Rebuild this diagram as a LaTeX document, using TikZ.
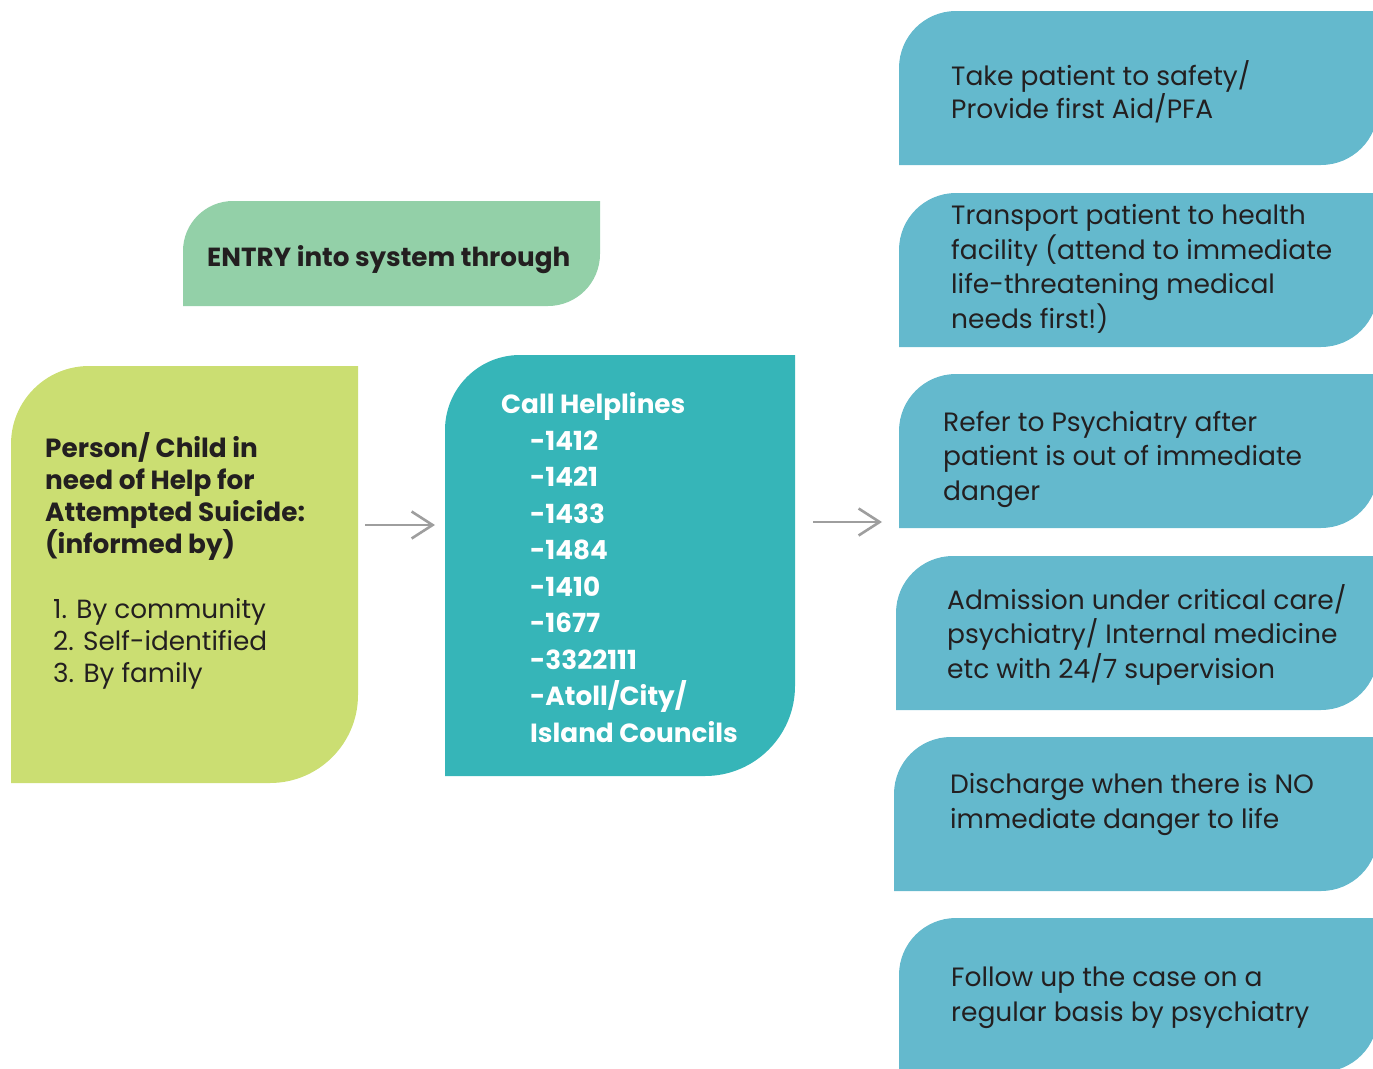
\documentclass[tikz,border=0pt]{standalone}
\usepackage{fontspec}
\setmainfont{Poppins}
\usetikzlibrary{arrows.meta}

\definecolor{cEntry}{HTML}{93D0A8}
\definecolor{cLime}{HTML}{CBDE72}
\definecolor{cTeal}{HTML}{36B5B8}
\definecolor{cSky}{HTML}{64B9CD}
\definecolor{cInk}{HTML}{231F20}
\definecolor{cArrow}{HTML}{9E9E9E}

\tikzset{
  % box with rounded top-left (#2) and bottom-right (#3) corners
  leaf/.style n args={3}{rectangle, inner sep=0pt, outer sep=0pt, anchor=north west,
    path picture={\fill[#1] (path picture bounding box.south west)
      -- ([yshift=-#2]path picture bounding box.north west)
      arc[start angle=180, end angle=90, radius=#2]
      -- (path picture bounding box.north east)
      -- ([yshift=#3]path picture bounding box.south east)
      arc[start angle=0, end angle=-90, radius=#3]
      -- cycle;}},
  stepbox/.style={leaf={cSky}{57pt}{57pt}, minimum width=#1, minimum height=154pt},
  % texts are placed by the baseline of their last line
  txt/.style={anchor=base west, align=left, inner sep=0pt, text=cInk,
    font=\fontsize{26.5}{34.5}\selectfont},
  boldtxt/.style={txt, font=\fontsize{26.3}{31.7}\selectfont\bfseries},
  listtxt/.style={txt, font=\fontsize{26.3}{32}\selectfont},
  helptxt/.style={txt, text=white, font=\fontsize{26.3}{36.5}\selectfont\bfseries},
  conn/.style={draw=cArrow, line width=2.6pt,
    -{Straight Barb[length=21pt, width=27pt]}},
}

\begin{document}
\begin{tikzpicture}[x=1pt, y=1pt]
\useasboundingbox (0,0) rectangle (1373,-1068);

% entry banner
\node[leaf={cEntry}{50pt}{52pt}, minimum width=417pt, minimum height=105pt]
  (entry) at (183,-201) {};
\node[txt, font=\fontsize{26.2}{30}\selectfont\bfseries] (entrytext) at (207,-266)
  {ENTRY into system through};

% who needs help
\node[leaf={cLime}{78pt}{88pt}, minimum width=347pt, minimum height=417pt]
  (person) at (11,-366) {};
\node[boldtxt] (persontext) at (45,-553)
  {Person/ Child in\\need of Help for\\Attempted Suicide:\\(informed by)};
\node[listtxt] (informers) at (53,-682)
  {1. By community\\2. Self-identified\\3. By family};

% helplines
\node[leaf={cTeal}{75pt}{90pt}, minimum width=350pt, minimum height=421pt]
  (helpline) at (445,-355) {};
\node[helptxt] (helptext) at (501,-742)
  {Call Helplines\\
   \hspace*{29pt}-1412\\
   \hspace*{29pt}-1421\\
   \hspace*{29pt}-1433\\
   \hspace*{29pt}-1484\\
   \hspace*{29pt}-1410\\
   \hspace*{29pt}-1677\\
   \hspace*{29pt}-3322111\\
   \hspace*{29pt}-Atoll/City/\\
   \hspace*{29pt}Island Councils};

% response steps
\node[stepbox=479pt] (s1) at (899,-11) {};
\node[stepbox=479pt] (s2) at (899,-193) {};
\node[stepbox=479pt] (s3) at (899,-374) {};
\node[stepbox=482pt] (s4) at (896,-556) {};
\node[stepbox=484pt] (s5) at (894,-737) {};
\node[stepbox=479pt] (s6) at (899,-918) {};

\node[txt] (t1) at (951,-118)
  {Take patient to safety/\\[-2pt]Provide first Aid/PFA};
\node[txt] (t2) at (951,-328)
  {Transport patient to health\\facility (attend to immediate\\life-threatening medical\\needs first!)};
\node[txt] (t3) at (943,-500)
  {Refer to Psychiatry after\\patient is out of immediate\\danger};
\node[txt] (t4) at (947,-678)
  {Admission under critical care/\\psychiatry/ Internal medicine\\etc with 24/7 supervision};
\node[txt] (t5) at (950,-828)
  {Discharge when there is NO\\immediate danger to life};
\node[txt] (t6) at (951,-1021)
  {Follow up the case on a\\regular basis by psychiatry};

% connectors
\coordinate (stepsin) at (882,-522);
\draw[conn] ([shift={(7,49.5)}]person.east) -- ([shift={(-10,40.5)}]helpline.west);
\draw[conn] ([shift={(18,43.5)}]helpline.east) -- (stepsin);
\end{tikzpicture}
\end{document}
